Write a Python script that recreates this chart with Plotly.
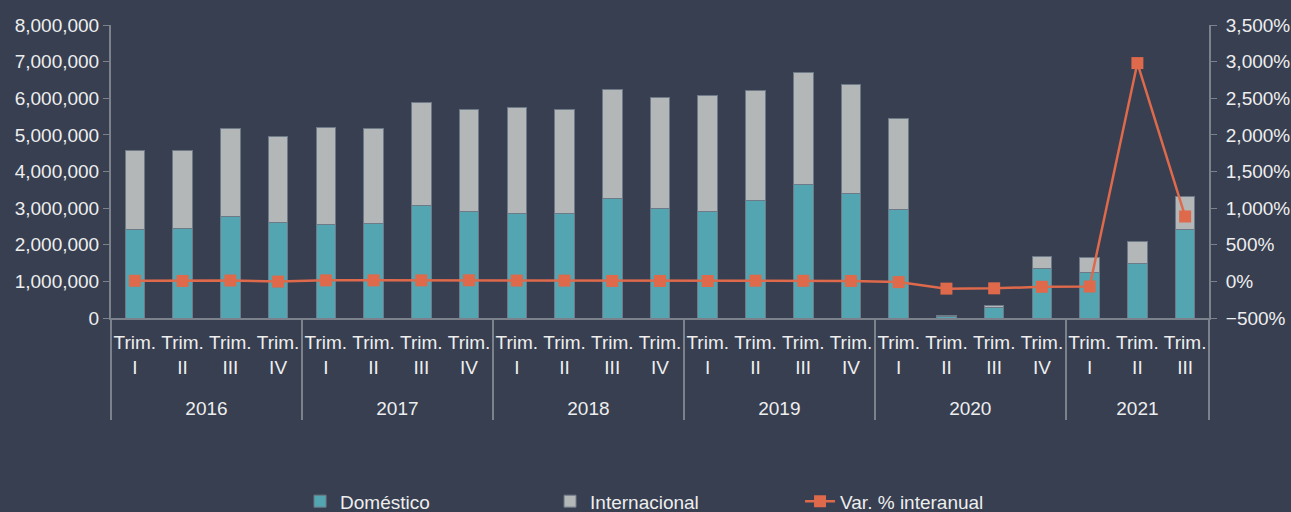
import plotly.graph_objects as go

years = ["2016"] * 4 + ["2017"] * 4 + ["2018"] * 4 + ["2019"] * 4 + ["2020"] * 4 + ["2021"] * 3
quarters = ["Trim.<br>I<br> ", "Trim.<br>II<br> ", "Trim.<br>III<br> ", "Trim.<br>IV<br> "] * 5 + \
           ["Trim.<br>I<br> ", "Trim.<br>II<br> ", "Trim.<br>III<br> "]

domestico = [2420000, 2450000, 2760000, 2620000, 2560000, 2590000, 3060000, 2920000,
             2860000, 2860000, 3270000, 2990000, 2900000, 3200000, 3640000, 3390000,
             2970000, 35000, 300000, 1360000, 1230000, 1500000, 2420000]
internacional = [2140000, 2110000, 2420000, 2330000, 2650000, 2590000, 2830000, 2770000,
                 2900000, 2830000, 2970000, 3040000, 3170000, 3000000, 3070000, 2990000,
                 2490000, 25000, 30000, 330000, 430000, 600000, 910000]
var_pct = [8, 6, 12, -3, 14, 14, 14, 15, 11, 10, 6, 6, 5, 9, 8, 6,
           -10, -99, -95, -74, -70, 2980, 886]

BG = "#373F51"
TXT = "#EEEEEE"
AX = "#7C828C"
FONT = "Liberation Sans, Arial, sans-serif"

x = [years, quarters]
n = len(quarters)

fig = go.Figure()
fig.add_trace(go.Bar(x=x, y=domestico, name="Doméstico",
                     marker=dict(color="#53A6B1", line=dict(color="#6E7A88", width=1))))
fig.add_trace(go.Bar(x=x, y=internacional, name="Internacional",
                     marker=dict(color="#B4B7B8", line=dict(color="#6E7A88", width=1))))
fig.add_trace(go.Scatter(x=x, y=var_pct, name="Var. % interanual", yaxis="y2",
                         mode="lines+markers",
                         line=dict(color="#DE694B", width=2.5),
                         marker=dict(symbol="square", size=12, color="#DE694B")))

fig.update_layout(
    width=1291, height=512,
    paper_bgcolor=BG, plot_bgcolor=BG,
    font=dict(family=FONT, size=19, color=TXT),
    barmode="stack", bargap=0.59,
    margin=dict(l=111, r=82, t=25, b=194),
    showlegend=True,
    legend=dict(orientation="h", x=0.5137, xanchor="center", y=0.058, yref="container",
                yanchor="top", entrywidth=205, entrywidthmode="pixels",
                traceorder="normal",
                font=dict(size=19, color=TXT), bgcolor="rgba(0,0,0,0)"),
    xaxis=dict(type="multicategory", range=[-0.5, n - 0.5], autorange=False,
               automargin=False,
               showline=True, linecolor=AX, linewidth=2, tickangle=0,
               ticks="", ticklabelstandoff=6, showgrid=False, showdividers=True,
               dividercolor=AX, dividerwidth=2, tickfont=dict(size=19, color=TXT)),
    yaxis=dict(range=[0, 8000000], dtick=1000000, tickformat=",.0f",
               automargin=False,
               showline=True, linecolor=AX, linewidth=2, ticks="outside",
               ticklen=6, tickcolor=AX, showgrid=False, zeroline=False,
               tickfont=dict(size=19, color=TXT)),
    yaxis2=dict(range=[-500, 3500], dtick=500, tickformat=",.0f", ticksuffix="%",
                overlaying="y", side="right", showline=True, linecolor=AX,
                automargin=False,
                linewidth=2, ticks="outside", ticklen=6, tickcolor=AX,
                ticklabelstandoff=5,
                showgrid=False, zeroline=False, tickfont=dict(size=19, color=TXT)),
)

fig.write_html("out.html")
